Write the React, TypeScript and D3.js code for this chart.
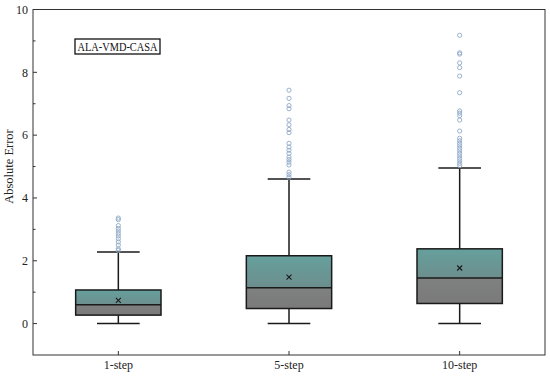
import React from "react";
import * as d3 from "d3";

const categories = ["1-step", "5-step", "10-step"];
const whiskerLow = [0, 0, 0];
const q1 = [0.27, 0.48, 0.64];
const medians = [0.6, 1.14, 1.45];
const q3 = [1.07, 2.16, 2.38];
const whiskerHigh = [2.28, 4.6, 4.95];
const means = [0.74, 1.48, 1.77];
const outliers1 = [2.33, 2.38, 2.5, 2.6, 2.7, 2.79, 2.87, 2.95, 3.03, 3.12, 3.31, 3.36];
const outliers5 = [
  4.66, 4.74, 4.82, 5.05, 5.14, 5.22, 5.3, 5.42, 5.52, 5.62, 5.74, 6.08, 6.18,
  6.33, 6.48, 6.84, 6.94, 7.17, 7.43,
];
const outliers10 = [
  5.03, 5.1, 5.18, 5.26, 5.34, 5.42, 5.5, 5.58, 5.66, 5.74, 5.82, 5.9, 6.13,
  6.48, 6.62, 6.7, 6.77, 7.35, 7.88, 8.15, 8.3, 8.58, 8.62, 9.18,
];
const outlierSets = [outliers1, outliers5, outliers10];
const yTicks = [0, 2, 4, 6, 8, 10];
const yMinorTicks = [1, 3, 5, 7, 9];

const W = 550;
const H = 378;
const left = 33;
const right = 545;
const top = 9.5;
const bottom = 355;

export default function App() {
  const x = d3.scaleBand<string>().domain(categories).range([left, right]).padding(0);
  const y = d3.scaleLinear().domain([-1, 10]).range([bottom, top]);
  const bw = x.bandwidth();
  const boxW = bw * 0.5;
  const capW = bw * 0.25;
  const font = '"Liberation Serif", "Times New Roman", "DejaVu Serif", serif';
  const ink = "#1a1a1a";

  return (
    <svg
      width={W}
      height={H}
      style={{ position: "absolute", left: 0, top: 0, background: "#fff", fontFamily: font }}
    >
      <defs>
        <linearGradient id="teal" x1="0" y1="0" x2="0" y2="1">
          <stop offset="0%" stopColor="#66a09d" />
          <stop offset="100%" stopColor="#6c8e8d" />
        </linearGradient>
        <linearGradient id="grey" x1="0" y1="0" x2="0" y2="1">
          <stop offset="0%" stopColor="#7f8080" />
          <stop offset="100%" stopColor="#7a7a7a" />
        </linearGradient>
      </defs>

      {/* boxes */}
      {categories.map((c, i) => {
        const cx = (x(c) as number) + bw / 2;
        const x0 = cx - boxW / 2;
        return (
          <g key={c}>
            <line x1={cx} x2={cx} y1={y(whiskerHigh[i])} y2={y(q3[i])} stroke={ink} strokeWidth={1.5} />
            <line x1={cx} x2={cx} y1={y(q1[i])} y2={y(whiskerLow[i])} stroke={ink} strokeWidth={1.5} />
            <line x1={cx - capW / 2} x2={cx + capW / 2} y1={y(whiskerHigh[i])} y2={y(whiskerHigh[i])} stroke={ink} strokeWidth={1.5} />
            <line x1={cx - capW / 2} x2={cx + capW / 2} y1={y(whiskerLow[i])} y2={y(whiskerLow[i])} stroke={ink} strokeWidth={1.5} />
            <rect x={x0} y={y(q3[i])} width={boxW} height={y(medians[i]) - y(q3[i])} fill="url(#teal)" />
            <rect x={x0} y={y(medians[i])} width={boxW} height={y(q1[i]) - y(medians[i])} fill="url(#grey)" />
            <rect x={x0} y={y(q3[i])} width={boxW} height={y(q1[i]) - y(q3[i])} fill="none" stroke={ink} strokeWidth={1.5} />
            <line x1={x0} x2={x0 + boxW} y1={y(medians[i])} y2={y(medians[i])} stroke={ink} strokeWidth={1.5} />
            <path
              d={`M${cx - 2.5},${y(means[i]) - 2.5}L${cx + 2.5},${y(means[i]) + 2.5}M${cx - 2.5},${y(means[i]) + 2.5}L${cx + 2.5},${y(means[i]) - 2.5}`}
              stroke={ink}
              strokeWidth={1.1}
            />
            {outlierSets[i].map((v, k) => (
              <circle key={k} cx={cx} cy={y(v)} r={2.1} fill="none" stroke="#8ea9c6" strokeWidth={0.9} />
            ))}
          </g>
        );
      })}

      {/* frame */}
      <rect x={left} y={top} width={right - left} height={bottom - top} fill="none" stroke="#333" strokeWidth={1} />

      {/* y ticks */}
      {yTicks.map((t) => (
        <g key={t}>
          <line x1={left} x2={left + 4} y1={y(t)} y2={y(t)} stroke="#333" />
          <text x={left - 5} y={y(t)} dy="0.35em" textAnchor="end" fontSize={12} fill="#222">
            {t}
          </text>
        </g>
      ))}
      {yMinorTicks.map((t) => (
        <line key={t} x1={left} x2={left + 2.5} y1={y(t)} y2={y(t)} stroke="#333" />
      ))}

      {/* x ticks */}
      {categories.map((c) => {
        const cx = (x(c) as number) + bw / 2;
        return (
          <g key={c}>
            <line x1={cx} x2={cx} y1={bottom} y2={bottom - 4} stroke="#333" />
            <text x={cx} y={bottom + 14} textAnchor="middle" fontSize={12} fill="#222">
              {c}
            </text>
          </g>
        );
      })}

      <text
        transform={`translate(13,${(y(4) + y(6)) / 2}) rotate(-90)`}
        textAnchor="middle"
        fontSize={12.5}
        fill="#222"
      >
        Absolute Error
      </text>

      {/* label box */}
      <rect x={75} y={39} width={85} height={15} fill="#fff" stroke="#111" strokeWidth={1.3} />
      <text
        x={117.5}
        y={46.5}
        dy="0.35em"
        textAnchor="middle"
        fontSize={12}
        textLength={80}
        lengthAdjust="spacingAndGlyphs"
        fill="#111"
      >
        ALA-VMD-CASA
      </text>
    </svg>
  );
}
